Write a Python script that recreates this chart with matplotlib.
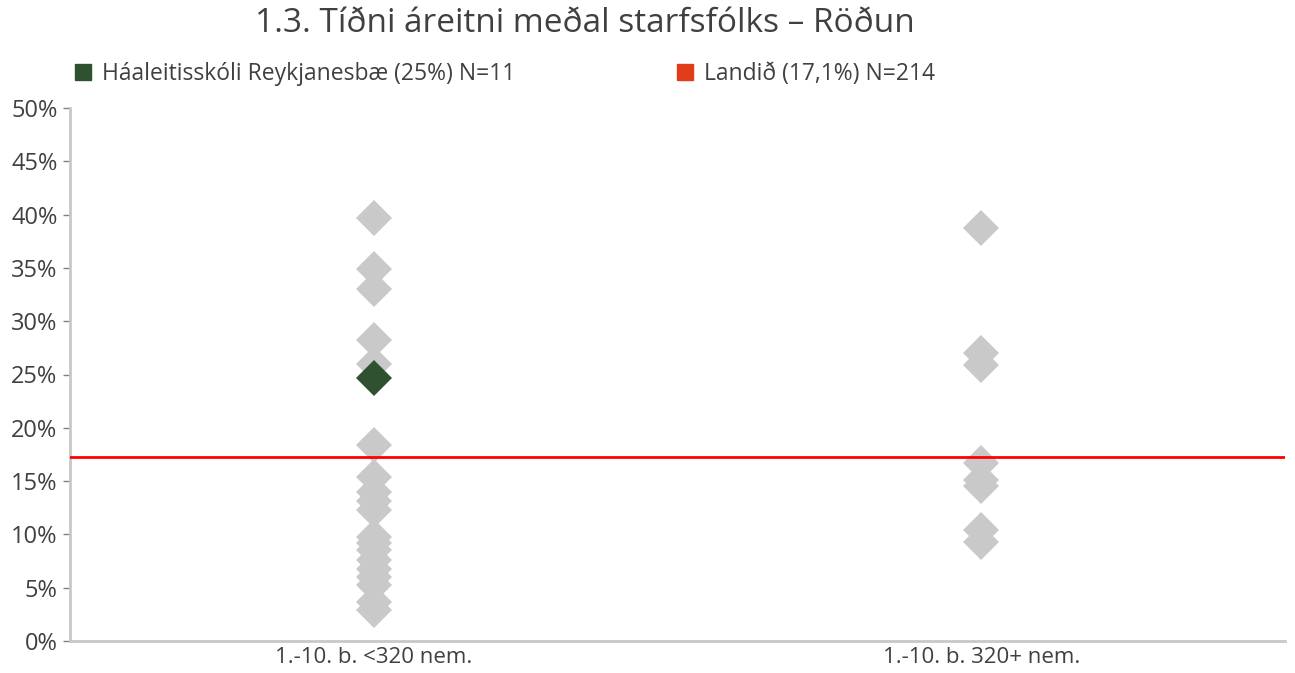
import matplotlib
matplotlib.use("Agg")
import matplotlib.pyplot as plt
from matplotlib.lines import Line2D
from matplotlib.ticker import FuncFormatter, MultipleLocator

plt.rcParams['font.family'] = ['Open Sans', 'DejaVu Sans']

categories = ["1.-10. b. <320 nem.", "1.-10. b. 320+ nem."]
small_schools = [39.7, 34.9, 33.0, 28.2, 26.0, 18.4, 15.4, 14.0, 13.1, 12.3,
                 9.8, 9.2, 8.5, 7.6, 6.8, 6.0, 5.3, 3.7, 2.9]
large_schools = [38.7, 27.0, 25.9, 16.7, 15.1, 14.5, 10.4, 9.3]
school_value = 24.7
school_category = 0
national_value = 17.3
title = "1.3. Tíðni áreitni meðal starfsfólks – Röðun"
legend_school = "Háaleitisskóli Reykjanesbæ (25%) N=11"
legend_nation = "Landið (17,1%) N=214"

grey = "#C9C9C9"
green = "#2F5130"
red = "#FF0000"
legend_red = "#E03C1A"
spine_c = "#C8C8C8"
txt = "#404040"

fig = plt.figure(figsize=(12.95, 6.73), dpi=100)
ax = fig.add_axes([70/1295, 1-641/673, (1285-70)/1295, (641-108)/673])

ax.plot([0]*len(small_schools), small_schools, linestyle='none', marker='D',
        markersize=18, color=grey, markeredgewidth=0, zorder=2)
ax.plot([1]*len(large_schools), large_schools, linestyle='none', marker='D',
        markersize=18, color=grey, markeredgewidth=0, zorder=2)
ax.axhline(national_value, color=red, linewidth=2, zorder=3)
ax.plot([school_category], [school_value], linestyle='none', marker='D',
        markersize=18, color=green, markeredgewidth=0, zorder=4)

ax.set_xlim(-0.5, 1.5)
ax.set_ylim(0, 50)
ax.set_xticks(range(len(categories)))
ax.set_xticklabels(categories)
ax.yaxis.set_major_locator(MultipleLocator(5))
ax.yaxis.set_major_formatter(FuncFormatter(lambda v, p: f"{v:.0f}%"))

for s in ['top', 'right']:
    ax.spines[s].set_visible(False)
for s in ['left', 'bottom']:
    ax.spines[s].set_color(spine_c)
    ax.spines[s].set_linewidth(2)
ax.tick_params(axis='y', length=5, width=1, color='#808080', labelsize=17, labelcolor=txt, pad=4)
ax.tick_params(axis='x', length=0, labelsize=16, labelcolor=txt, pad=4)

fig.text(585/1295, 1-24/673, title, ha='center', va='center', fontsize=24, color=txt)

h1 = [Line2D([], [], linestyle='none', marker='s', markersize=11, color=green)]
h2 = [Line2D([], [], linestyle='none', marker='s', markersize=11, color=legend_red)]
l1 = fig.legend(h1, [legend_school], loc='center left', bbox_to_anchor=(74/1295, 1-74/673),
                frameon=False, fontsize=16.5, handlelength=0.75, handletextpad=0.45, borderaxespad=0,
                borderpad=0, labelcolor=txt)
l2 = fig.legend(h2, [legend_nation], loc='center left', bbox_to_anchor=(676/1295, 1-74/673),
                frameon=False, fontsize=16.5, handlelength=0.75, handletextpad=0.45, borderaxespad=0,
                borderpad=0, labelcolor=txt)

fig.savefig("out.png", dpi=100)
